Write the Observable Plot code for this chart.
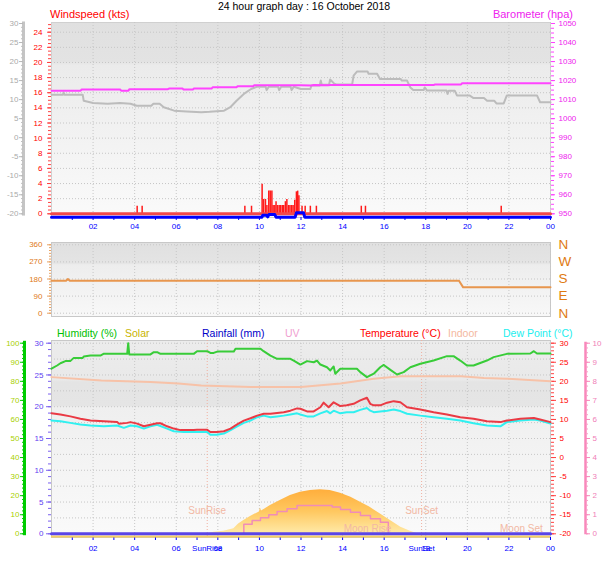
<!DOCTYPE html>
<html><head><meta charset="utf-8">
<script src="https://cdn.jsdelivr.net/npm/d3@7"></script>
<script src="https://cdn.jsdelivr.net/npm/@observablehq/plot@0.6"></script>
<style>
body{margin:0;background:#fff;font-family:"Liberation Sans",Arial,sans-serif;}
#chart{position:relative;width:608px;height:561px;overflow:hidden;background:#fff;}
#chart svg{position:absolute;left:0;top:0;}
.lbl{position:absolute;font-size:10.5px;white-space:nowrap;line-height:12px;}
</style></head><body>
<div id="chart">
  <div class="lbl" style="left:0;width:608px;text-align:center;top:0px;font-size:10.5px;color:#000">24 hour graph day : 16 October 2018</div>
  <div class="lbl" style="left:50px;top:8px;font-size:11px;color:#ff0000">Windspeed (kts)</div>
  <div class="lbl" style="right:35px;top:8px;font-size:11px;color:#ee22ee">Barometer (hpa)</div>
  <div class="lbl" style="left:57px;top:327px;color:#00c000">Humidity (%)</div>
  <div class="lbl" style="left:125px;top:327px;color:#c8b400">Solar</div>
  <div class="lbl" style="left:202px;top:327px;color:#0000c8">Rainfall (mm)</div>
  <div class="lbl" style="left:285px;top:327px;color:#f0a0d0">UV</div>
  <div class="lbl" style="left:360px;top:327px;color:#ff0000">Temperature (°C)</div>
  <div class="lbl" style="left:448px;top:327px;color:#f4b8a0">Indoor</div>
  <div class="lbl" style="left:503px;top:327px;color:#22eeee">Dew Point (°C)</div>
</div>
<script>
// ---------- x axis ----------
const hourTicks = [2,4,6,8,10,12,14,16,18,20,22,24];
const hourTickLabels = ["02","04","06","08","10","12","14","16","18","20","22","00"];
const hourMinor = [1,2,3,4,5,6,7,8,9,10,11,12,13,14,15,16,17,18,19,20,21,22,23,24];

// ---------- top panel ----------
const windTicks = [0,2,4,6,8,10,12,14,16,18,20,22,24];
const grayTicks = [-20,-15,-10,-5,0,5,10,15,20,25,30];
const baroTicks = [950,960,970,980,990,1000,1010,1020,1030,1040,1050];

const windSpeedHour = [0, 24];
const windSpeedKts = [0, 0];
const gustHour = [4.12,4.36,9.3,9.62,10.13,10.2,10.29,10.36,10.45,10.52,10.6,10.66,10.74,10.8,10.87,10.95,11.02,11.1,11.17,11.25,11.32,11.4,11.47,11.55,11.62,11.7,11.78,11.84,11.9,12.05,12.2,12.45,12.74,14.9,15.1,21.63];
const gustKts  = [1,1,1,1,3.9,1.9,1.9,1.1,3.0,3.0,3.0,1.1,1.1,1.6,1.1,1.1,1.1,1.1,1.1,1.6,1.9,1.1,1.1,1.1,1.1,1.8,2.9,3.0,2.4,1.0,1.0,1.0,1.0,1,1,1];
const avgHour = [0,10.12,10.16,10.34,10.4,10.46,10.74,10.8,11.72,11.78,12.12,12.18,24];
const avgKts  = [0,0,0.25,0.25,0.05,0.35,0.35,0,0,0.6,0.6,0,0];

const baroHour = [0,1.4,1.45,3.3,3.35,3.7,3.75,5.6,5.65,6.3,6.35,6.8,6.85,7.7,7.75,8.9,8.95,9.7,9.75,12,12.5,12.6,13.3,13.4,18.4,18.45,19.7,19.75,24];
const baroHpa  = [1014.7,1014.7,1015.3,1015.3,1014.7,1014.7,1015.5,1015.5,1015.8,1015.8,1015.3,1015.3,1015.8,1015.8,1016.5,1016.5,1017,1017,1017.5,1017.6,1017.4,1017.7,1017.5,1017.7,1017.7,1018,1018,1018.6,1018.6];

const grayHour = [0,0.55,0.58,0.62,1.5,1.55,2.0,2.7,3.3,3.8,4.1,4.8,4.9,5.2,5.4,5.9,6.5,7.2,7.6,8.3,8.6,8.9,9.25,9.6,9.9,10.3,10.35,10.45,10.9,10.95,11.05,11.5,11.55,11.65,12.0,12.45,12.5,12.9,12.95,13.0,13.35,13.4,13.6,13.7,14.46,14.53,14.7,15.2,15.25,15.66,15.8,16.8,16.85,17.1,17.26,17.4,17.9,17.95,18.06,19.0,19.05,19.1,19.4,19.5,20.1,20.3,20.8,20.95,21.3,21.4,21.75,21.9,23.35,23.5,24];
const grayVal  = [11.3,11.3,11.9,11.3,11.3,9.7,9.1,8.9,9.1,8.9,8.4,8.4,8.9,8.9,8.0,7.1,6.9,6.7,6.8,7.1,8.0,9.7,11.5,12.8,13.4,13.4,12.5,13.4,13.4,12.5,13.4,13.4,12.5,13.4,12.8,12.8,13.7,13.7,15.0,13.9,13.9,15.3,14.2,14.0,14.0,16.3,17.4,17.4,16.8,16.8,15.4,15.4,15.0,15.0,13.2,12.5,12.5,13.2,12.4,12.4,11.5,12.3,12.3,11.1,11.1,10.4,10.4,9.7,9.7,9.0,9.0,11.1,11.1,9.3,9.3];

// ---------- middle panel ----------
const dirTicks = [0,90,180,270,360];
const dirCompass = ["N","E","S","W","N"];
const dirHour = [0,0.7,0.79,0.88,19.6,19.8,24];
const dirDeg  = [171,171,180,171,171,136,136];

// ---------- bottom panel ----------
const humTicks = [0,10,20,30,40,50,60,70,80,90,100];
const rainTicks = [0,5,10,15,20,25,30];
const tempTicks = [-20,-15,-10,-5,0,5,10,15,20,25,30];
const uvTicks = [0,1,2,3,4,5,6,7,8,9,10];

const humHour = [0,0.27,0.43,0.67,0.9,1.07,1.5,1.55,1.875,2.35,2.5,3.64,3.69,3.74,4.76,4.92,5.08,5.24,6.84,7.0,7.49,7.64,7.8,7.97,8.77,8.85,10.05,10.2,10.53,10.85,11.49,11.65,11.97,12.29,12.61,12.77,12.93,13.25,13.41,13.57,13.65,13.89,14.69,14.85,15.17,15.5,15.81,15.98,16.3,16.62,16.94,17.26,17.74,18.38,19.02,19.34,19.66,19.98,20.3,20.94,21.27,21.9,23.03,23.2,23.35,24];
const humPct  = [86.6,88.3,89.5,90.6,90.6,92.3,92.3,93,93.5,93.5,94.4,94.4,100,94.1,94.1,95.3,95.3,94.4,94.4,95.8,95.8,94.9,94.9,95.6,95.6,97.1,97.1,95.8,93.5,91.8,91.8,90.9,88.8,90.6,90.0,90.9,88.8,87.4,85.7,87.8,84,86.6,86.6,84.8,82.2,84,87.4,88.6,86,83.6,84.8,87.4,89.2,90.9,93.2,93.2,90.9,88.3,88.3,90.9,92.7,94.4,94.6,95.8,94.6,94.6];

const tempHour = [0,0.43,0.91,1.39,1.875,2.52,3.16,3.24,3.64,3.8,4.12,4.44,4.76,5.08,5.24,5.56,5.88,6.2,6.84,7.0,7.49,7.64,7.96,8.29,8.61,8.93,9.25,9.57,9.89,10.21,10.53,10.85,11.17,11.49,11.81,11.97,12.29,12.61,12.93,13.09,13.33,13.57,13.89,14.2,14.53,14.85,15.17,15.33,15.5,15.81,16.14,16.46,16.78,17.1,17.74,18.38,19.02,19.66,20.3,20.94,21.59,21.9,22.55,23.2,23.5,24];
const tempC    = [11.6,11.3,10.8,10.2,9.7,9.5,9.3,8.9,9.1,9.3,8.9,8.2,8.6,9.0,9.0,8.2,7.6,7.2,7.2,7.3,7.3,6.7,6.7,6.9,7.6,8.7,9.7,10.3,11.0,11.5,11.5,11.7,11.9,12.3,12.9,12.8,12.1,12.1,13.2,14.4,13.2,14.5,13.5,13.7,14.1,15.0,15.7,14.1,13.7,13.7,14.4,14.8,14.5,13.2,12.6,11.9,11.3,10.6,10.2,9.5,9.3,9.7,10.2,10.4,10.0,9.3];

const dewHour = [0,0.43,0.91,1.39,1.875,2.52,3.16,3.48,3.8,4.12,4.44,4.76,5.08,5.56,5.88,6.36,7.49,7.64,7.96,8.29,8.61,8.93,9.25,9.57,9.89,10.21,10.53,10.85,11.17,11.49,11.81,11.97,12.29,12.61,12.93,13.25,13.41,13.57,13.89,14.2,14.53,14.85,15.17,15.33,15.5,15.81,16.14,16.46,16.78,17.1,17.74,18.38,19.02,19.66,20.3,20.94,21.59,21.9,22.55,23.2,23.5,24];
const dewC    = [9.7,9.5,9.1,8.7,8.4,8.2,8.4,7.8,8.4,8.2,7.6,8.2,8.6,7.6,6.9,6.7,6.7,6.0,6.0,6.3,7.2,8.2,9.1,9.7,10.6,11.0,10.6,10.8,11.0,11.3,11.6,11.3,10.8,10.8,11.6,12.2,11.6,12.3,11.6,11.9,11.9,12.5,13.0,12.3,11.9,12.1,12.3,12.6,12.2,11.5,11.0,10.6,10.2,9.7,9.0,8.4,8.2,9.3,9.7,10.0,9.7,8.9];

const indoorHour = [0,2.4,4.76,6.1,7.2,9.6,12,13.9,15.5,16.8,19.7,20.8,21.9,24];
const indoorC    = [21.1,20.2,19.8,19.4,18.9,18.5,18.5,19.4,20.7,21.3,21.3,20.9,20.7,20.0];

const solarHour = [7.5,7.8,8.28,8.77,9.0,9.25,9.57,10.0,10.05,10.1,10.53,11.0,11.49,11.97,12.45,12.93,13.4,13.9,14.4,14.86,15.3,15.8,16.3,16.8,17.26,17.6];
const solarWm2  = [0,8,14,26,52,70,91,115,135,119,149,175,201,218,227,231,227,213,192,166,140,105,70,35,14,0];

const uvHour  = [0,9.25,9.65,10.05,10.45,10.85,11.33,11.81,13.5,13.9,14.38,14.86,15.34,15.82,16.2,24];
const uvIndex = [0,0.5,0.7,0.84,1.0,1.17,1.31,1.48,1.4,1.27,1.13,0.96,0.79,0.61,0,0];

const rainHour = [0,24];
const rainMm   = [0,0];

const sunEvents  = [{h:7.49, label:"SunRise"},{h:17.8, label:"SunSet"}];
const moonEvents = [{h:15.2, label:"Moon Rise"},{h:22.6, label:"Moon Set"}];

// ---------- helpers ----------
const W = 608, H = 561;
const FONT = "'Liberation Sans', Arial, sans-serif";
const chart = document.getElementById("chart");
const tbl = (hs, vs) => hs.map((h, i) => ({h, v: vs[i]}));
const range = (a, b, s) => d3.range(a, b + s / 2, s);
const fmtHour = d => hourTickLabels[hourTicks.indexOf(d)];
const fmtNum = d => String(d);
function gradient(id, stops) {
  return () => {
    const defs = d3.create("svg:defs");
    const g = defs.append("linearGradient").attr("id", id).attr("x1", "0").attr("y1", "0").attr("x2", "0").attr("y2", "1");
    for (const [o, c] of stops) g.append("stop").attr("offset", o).attr("stop-color", c);
    return defs.node();
  };
}
function layer({ml = 51, mr = 58, mt, mb, y, marks}) {
  const svg = Plot.plot({
    width: W, height: H, marginLeft: ml, marginRight: mr, marginTop: mt, marginBottom: mb,
    x: {domain: [0, 24], axis: null},
    y: {...y, axis: null},
    style: {background: "transparent", overflow: "visible", fontFamily: FONT, fontSize: "8px"},
    marks
  });
  svg.style.position = "absolute"; svg.style.left = "0px"; svg.style.top = "0px";
  chart.appendChild(svg);
}
const grid = {stroke: "#c6c6c6", strokeOpacity: 1, strokeDasharray: "1,2"};

// ================= TOP PANEL =================
const TOP = {mt: 22, mb: H - 217};
const windY = {domain: [0, 24], range: [213.3, 31.7]};
const grayY = {domain: [-20, 30], range: [213.3, 23]};
const baroY = {domain: [950, 1050], range: [213.3, 23]};

layer({...TOP, y: windY, marks: [
  gradient("gTop", [[0, "#e0e0e0"], [0.2, "#e3e3e3"], [0.22, "#ebebeb"], [1, "#fafafa"]]),
  Plot.frame({fill: "url(#gTop)", stroke: "#d0d0d0"}),
  Plot.gridX({ticks: hourTicks, ...grid}),
  Plot.gridY({ticks: windTicks, ...grid}),
  Plot.axisY({ticks: range(0, 25, 0.5), anchor: "left", tickSize: 3, stroke: "#ff4040", fill: "none", label: null}),
  Plot.axisY({ticks: windTicks, anchor: "left", tickSize: 4, tickPadding: 5, stroke: "#ff4040", fill: "#ff0000", fontSize: 8, tickFormat: fmtNum, label: null}),
  Plot.axisX({ticks: hourMinor, anchor: "bottom", tickSize: 3, stroke: "#0000ff", fill: "none", label: null}),
  Plot.axisX({ticks: hourTicks, anchor: "bottom", tickSize: 0, tickPadding: 6, fill: "#0000ff", fontSize: 8, tickFormat: fmtHour, label: null})
]});

layer({...TOP, ml: 23, y: grayY, marks: [
  Plot.ruleX([0], {y1: grayTicks[0] - 0.6, y2: grayTicks[grayTicks.length - 1] + 0.4, stroke: "#c4c4c4", strokeWidth: 3}),
  Plot.axisY({ticks: range(-20, 30, 1), anchor: "left", tickSize: 2, stroke: "#c0c0c0", fill: "none", label: null}),
  Plot.axisY({ticks: grayTicks, anchor: "left", tickSize: 4, tickPadding: 1, stroke: "#b8b8b8", fill: "#aaaaaa", fontSize: 8, tickFormat: fmtNum, label: null})
]});

layer({...TOP, y: grayY, marks: [
  Plot.lineY(tbl(grayHour, grayVal), {x: "h", y: "v", stroke: "#bcbcbc", strokeWidth: 2, curve: "linear"})
]});

layer({...TOP, y: baroY, marks: [
  Plot.axisY({ticks: range(950, 1050, 2.5), anchor: "right", tickSize: 3, stroke: "#ff40ff", fill: "none", label: null}),
  Plot.axisY({ticks: baroTicks, anchor: "right", tickSize: 4, tickPadding: 4, stroke: "#ff40ff", fill: "#ee22ee", fontSize: 8, tickFormat: fmtNum, label: null}),
  Plot.lineY(tbl(baroHour, baroHpa), {x: "h", y: "v", stroke: "#ff44ff", strokeWidth: 2})
]});

layer({...TOP, y: windY, marks: [
  Plot.ruleX(tbl(gustHour, gustKts), {x: "h", y1: 0, y2: "v", stroke: "#ff1a1a", strokeWidth: 1.5}),
  Plot.lineY(tbl(windSpeedHour, windSpeedKts), {x: "h", y: "v", stroke: "#f24a4a", strokeWidth: 3}),
  Plot.lineY(tbl(avgHour, avgKts), {x: "h", y: "v", stroke: "#0000ff", strokeWidth: 3, dy: 3.4})
]});

// ================= MIDDLE PANEL =================
const MID = {mt: 242, mb: H - 316};
const dirY = {domain: [0, 360], range: [312.7, 244.3]};
layer({...MID, y: dirY, marks: [
  gradient("gMid", [[0, "#e0e0e0"], [0.28, "#e4e4e4"], [0.3, "#ededed"], [1, "#f8f8f8"]]),
  Plot.frame({fill: "url(#gMid)", stroke: "#c8c8c8"}),
  Plot.gridX({ticks: hourTicks, ...grid}),
  Plot.gridY({ticks: dirTicks, ...grid}),
  Plot.axisY({ticks: range(0, 360, 15), anchor: "left", tickSize: 2, stroke: "#e8a060", fill: "none", label: null}),
  Plot.axisY({ticks: dirTicks, anchor: "left", tickSize: 4, tickPadding: 5, stroke: "#e8a060", fill: "#e07a20", fontSize: 8, tickFormat: fmtNum, label: null}),
  Plot.axisY({ticks: dirTicks, anchor: "right", tickSize: 0, tickPadding: 8, fill: "#e07a10", fontSize: 13.5, tickFormat: d => dirCompass[dirTicks.indexOf(d)], label: null}),
  Plot.lineY(tbl(dirHour, dirDeg), {x: "h", y: "v", stroke: "#e8964e", strokeWidth: 2})
]});

// ================= BOTTOM PANEL =================
const BOT = {mt: 340, mb: H - 537};
const rainY = {domain: [0, 30], range: [533.3, 342.7]};
const humY  = {domain: [0, 100], range: [533.3, 342.7]};
const tempY = {domain: [-20, 30], range: [533.3, 342.7]};
const uvY   = {domain: [0, 10], range: [533.3, 342.7]};
const solarY = {domain: [0, 1000], range: [533.3, 342.7]};

layer({...BOT, y: rainY, marks: [
  gradient("gBot", [[0, "#ececec"], [0.2, "#e9e9e9"], [0.21, "#e4e4e4"], [0.33, "#e5e5e5"], [0.34, "#efefef"], [1, "#fafafa"]]),
  Plot.frame({fill: "url(#gBot)", stroke: "#c8c8c8"}),
  Plot.gridX({ticks: hourTicks, ...grid}),
  Plot.gridY({ticks: range(0, 30, 2.5), ...grid}),
  Plot.axisY({ticks: range(0, 30, 1), anchor: "left", tickSize: 3, stroke: "#7a60f0", fill: "none", label: null}),
  Plot.axisY({ticks: rainTicks, anchor: "left", tickSize: 5, tickPadding: 3, stroke: "#7a60f0", fill: "#6040f0", fontSize: 8, tickFormat: fmtNum, label: null}),
  Plot.axisX({ticks: hourMinor, anchor: "bottom", tickSize: 3, stroke: "#0000ff", fill: "none", label: null}),
  Plot.axisX({ticks: hourTicks, anchor: "bottom", tickSize: 0, tickPadding: 8, fill: "#0000ff", fontSize: 8, tickFormat: fmtHour, label: null}),
  Plot.axisX({ticks: sunEvents.map(d => d.h), anchor: "bottom", tickSize: 0, tickPadding: 8, fill: "#0000ff", fontSize: 8, tickFormat: d => sunEvents.find(e => e.h === d).label, label: null})
]});

layer({...BOT, ml: 24, y: humY, marks: [
  Plot.ruleX([0], {y1: humTicks[0] - 1, y2: humTicks[humTicks.length - 1] + 1, stroke: "#00cc00", strokeWidth: 3}),
  Plot.axisY({ticks: range(0, 100, 2), anchor: "left", tickSize: 2, stroke: "#00cc00", fill: "none", label: null}),
  Plot.axisY({ticks: humTicks, anchor: "left", tickSize: 4, tickPadding: 1, stroke: "#00cc00", fill: "#a8d000", fontSize: 8, tickFormat: fmtNum, label: null})
]});

layer({...BOT, y: solarY, marks: [
  gradient("gSolar", [[0, "#ffae3c"], [0.5, "#ffc860"], [1, "#ffeaa8"]]),
  Plot.areaY(tbl(solarHour, solarWm2), {x: "h", y: "v", fill: "url(#gSolar)", curve: "linear"}),
  Plot.ruleX(sunEvents, {x: "h", stroke: "#f0b0a0", strokeDasharray: "1,2"}),
  Plot.ruleY([0], {stroke: "#f8d060", strokeWidth: 2, dy: 2.6})
]});

layer({...BOT, y: tempY, marks: [
  Plot.axisY({ticks: range(-20, 30, 1), anchor: "right", tickSize: 3, stroke: "#ff4040", fill: "none", label: null}),
  Plot.axisY({ticks: tempTicks, anchor: "right", tickSize: 5, tickPadding: 4, stroke: "#ff4040", fill: "#ff0000", fontSize: 8, tickFormat: fmtNum, label: null}),
  Plot.lineY(tbl(indoorHour, indoorC), {x: "h", y: "v", stroke: "#f7c2a8", strokeWidth: 2})
]});

layer({...BOT, y: humY, marks: [
  Plot.lineY(tbl(humHour, humPct), {x: "h", y: "v", stroke: "#38cc38", strokeWidth: 2})
]});

layer({...BOT, y: tempY, marks: [
  Plot.lineY(tbl(dewHour, dewC), {x: "h", y: "v", stroke: "#30f0f0", strokeWidth: 2}),
  Plot.lineY(tbl(tempHour, tempC), {x: "h", y: "v", stroke: "#ea3a44", strokeWidth: 2})
]});

layer({...BOT, mr: 23, y: uvY, marks: [
  Plot.ruleX([24], {y1: uvTicks[0] - 0.05, y2: uvTicks[uvTicks.length - 1] + 0.05, stroke: "#f888bb", strokeWidth: 2.5}),
  Plot.axisY({ticks: range(0, 10, 0.25), anchor: "right", tickSize: 2, stroke: "#f8a0c8", fill: "none", label: null}),
  Plot.axisY({ticks: uvTicks, anchor: "right", tickSize: 4, tickPadding: 3, stroke: "#f888bb", fill: "#f080b8", fontSize: 8, tickFormat: fmtNum, label: null})
]});

layer({...BOT, y: uvY, marks: [
  Plot.lineY(tbl(uvHour, uvIndex), {x: "h", y: "v", stroke: "#f08cb8", strokeWidth: 1.5, curve: "step-after"})
]});

layer({...BOT, y: rainY, marks: [
  Plot.lineY(tbl(rainHour, rainMm), {x: "h", y: "v", stroke: "#5a44e8", strokeWidth: 3}),
  Plot.text(sunEvents, {x: "h", text: "label", frameAnchor: "bottom", dy: -24, fill: "#f2b8a4", fontSize: 10}),
  Plot.text(moonEvents, {x: "h", text: "label", frameAnchor: "bottom", dy: -6, fill: "#f2b8a4", fontSize: 10})
]});
</script>
</body></html>
